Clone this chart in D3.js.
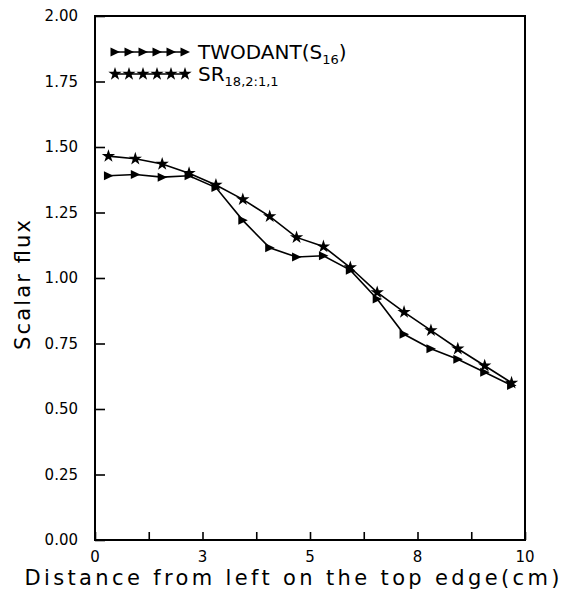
<!DOCTYPE html>
<html>
<head>
<meta charset="utf-8">
<script src="https://cdn.jsdelivr.net/npm/d3@7"></script>
<style>
  html, body { margin: 0; padding: 0; background: #fff; }
  text { font-family: "DejaVu Sans", sans-serif; fill: #000; }
</style>
</head>
<body>
<svg id="chart" width="567" height="591"></svg>
<script>
// ---- data ----
const positions = [0.3125, 0.9375, 1.5625, 2.1875, 2.8125, 3.4375, 4.0625, 4.6875,
                   5.3125, 5.9375, 6.5625, 7.1875, 7.8125, 8.4375, 9.0625, 9.6875];
const twodant = [1.39, 1.395, 1.385, 1.39, 1.345, 1.22, 1.115, 1.08,
                 1.085, 1.03, 0.92, 0.785, 0.73, 0.69, 0.64, 0.59];
const sr = [1.465, 1.455, 1.435, 1.40, 1.355, 1.30, 1.235, 1.155,
            1.12, 1.04, 0.945, 0.87, 0.80, 0.73, 0.665, 0.60];
const xTicks = [0, 1.25, 2.5, 3.75, 5, 6.25, 7.5, 8.75, 10];
const xTickLabelValues = [0, 2.5, 5, 7.5, 10];
const xTickLabels = ["0", "3", "5", "8", "10"];
const yTicks = [0, 0.25, 0.5, 0.75, 1.0, 1.25, 1.5, 1.75, 2.0];
const yTickLabels = ["0.00", "0.25", "0.50", "0.75", "1.00", "1.25", "1.50", "1.75", "2.00"];

const svg = d3.select("#chart");
const L = 95, R = 525, T = 16, B = 540;
const x = d3.scaleLinear().domain([0, 10]).range([L, R]);
const y = d3.scaleLinear().domain([0, 2]).range([B, T]);

// x axis ticks (inward)
const xAxis = d3.axisTop(x).tickValues(xTicks).tickSize(8).tickFormat("");
const gx = svg.append("g").attr("transform", `translate(0,${B})`).call(xAxis);
gx.select(".domain").remove();
gx.selectAll("line").attr("stroke", "#000").attr("stroke-width", 1.6);

// y axis ticks (inward)
const yAxis = d3.axisRight(y).tickValues(yTicks).tickSize(10).tickFormat("");
const gy = svg.append("g").attr("transform", `translate(${L},0)`).call(yAxis);
gy.select(".domain").remove();
gy.selectAll("line").attr("stroke", "#000").attr("stroke-width", 1.6);

// frame
svg.append("rect").attr("x", L).attr("y", T).attr("width", R - L).attr("height", B - T)
  .attr("fill", "none").attr("stroke", "#000").attr("stroke-width", 2);

// tick labels
svg.append("g").selectAll("text").data(yTicks).join("text")
  .attr("x", 78).attr("y", d => y(d)).attr("dy", "0.36em")
  .attr("text-anchor", "end").attr("font-size", 15)
  .text((d, i) => yTickLabels[i]);
svg.append("g").selectAll("text").data(xTickLabelValues).join("text")
  .attr("x", d => x(d)).attr("y", 562)
  .attr("text-anchor", "middle").attr("font-size", 15)
  .text((d, i) => xTickLabels[i]);

// axis titles
svg.append("text").attr("x", 292).attr("y", 585).attr("text-anchor", "middle")
  .attr("font-size", 21).attr("textLength", 535).attr("lengthAdjust", "spacing")
  .text("Distance from left on the top edge(cm)");
svg.append("text").attr("transform", `translate(30,285) rotate(-90)`).attr("text-anchor", "middle")
  .attr("font-size", 21).attr("textLength", 130).attr("lengthAdjust", "spacing")
  .text("Scalar flux");

// series
const triPath = "M-4.5,-4.5L5,0L-4.5,4.5Z";
const starPath = d3.symbol().type(d3.symbolStar).size(55)();
const line = d3.line().x(d => x(d[0])).y(d => y(d[1]));
const seriesList = [
  { vals: twodant, path: triPath },
  { vals: sr, path: starPath }
];
seriesList.forEach(s => {
  const pts = positions.map((p, i) => [p, s.vals[i]]);
  svg.append("path").attr("d", line(pts)).attr("fill", "none")
    .attr("stroke", "#000").attr("stroke-width", 1.6);
  svg.append("g").selectAll("path").data(pts).join("path")
    .attr("d", s.path).attr("transform", d => `translate(${x(d[0])},${y(d[1])})`)
    .attr("fill", "#000");
});

// legend
const legend = [
  { yPos: 52, path: triPath, label: "TWODANT(S", sub: "16", after: ")" },
  { yPos: 74, path: starPath, label: "SR", sub: "18,2:1,1", after: "" }
];
legend.forEach(l => {
  svg.append("line").attr("x1", 113).attr("x2", 186).attr("y1", l.yPos).attr("y2", l.yPos)
    .attr("stroke", "#000").attr("stroke-width", 1.6);
  svg.append("g").selectAll("path").data([0, 1, 2, 3, 4, 5]).join("path")
    .attr("d", l.path).attr("transform", d => `translate(${115 + d * 14},${l.yPos})`)
    .attr("fill", "#000");
  const t = svg.append("text").attr("x", 198).attr("y", l.yPos + 7).attr("font-size", 20);
  t.append("tspan").text(l.label);
  t.append("tspan").attr("font-size", 13).attr("dy", 5).text(l.sub);
  if (l.after) t.append("tspan").attr("dy", -5).text(l.after);
});
</script>
</body>
</html>
